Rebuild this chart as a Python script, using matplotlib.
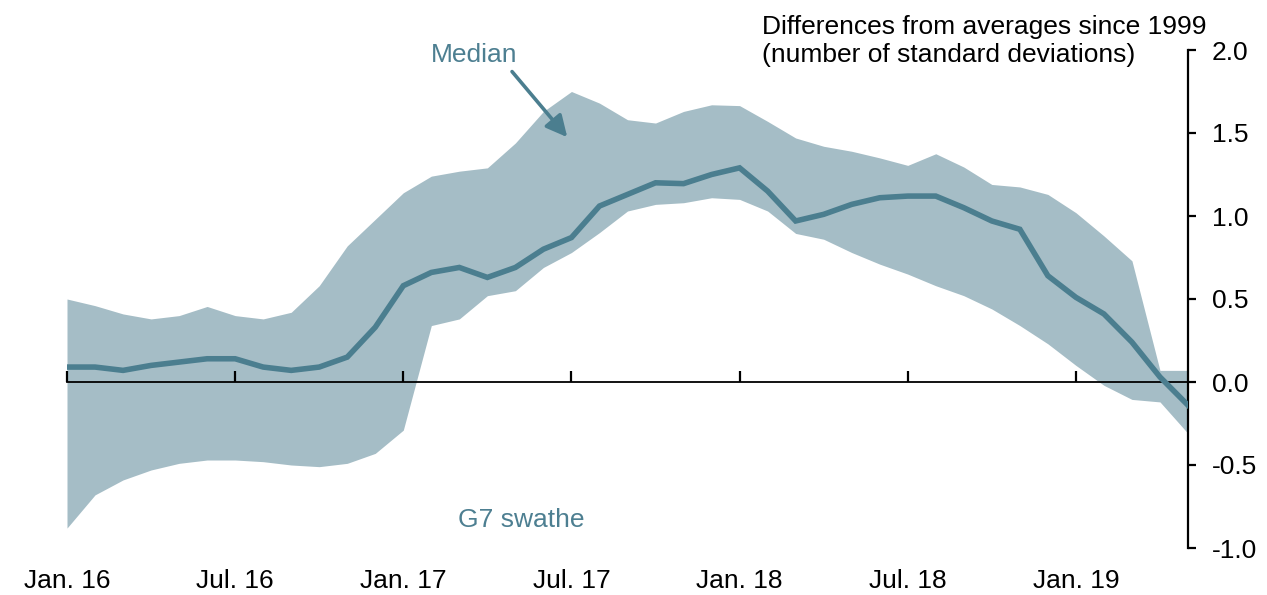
import numpy as np
import matplotlib
matplotlib.use("Agg")
import matplotlib.pyplot as plt

plt.rcParams['font.family'] = ['Liberation Sans', 'DejaVu Sans']

# Monthly data, Jan 2016 - May 2019
month_labels = ["Jan. 16", "Jul. 16", "Jan. 17", "Jul. 17", "Jan. 18", "Jul. 18", "Jan. 19"]
median = [0.09, 0.09, 0.07, 0.10, 0.12, 0.14, 0.14, 0.09, 0.07, 0.09, 0.15, 0.33, 0.58,
          0.66, 0.69, 0.63, 0.69, 0.80, 0.87, 1.06, 1.13, 1.20, 1.195, 1.25, 1.29,
          1.15, 0.97, 1.01, 1.07, 1.11, 1.12, 1.12, 1.05, 0.97, 0.92, 0.64, 0.51,
          0.41, 0.24, 0.03, -0.14]
upper = [0.50, 0.46, 0.41, 0.38, 0.40, 0.455, 0.40, 0.38, 0.42, 0.58, 0.82, 0.98, 1.14,
         1.24, 1.27, 1.29, 1.44, 1.63, 1.75, 1.68, 1.58, 1.56, 1.63, 1.67, 1.665,
         1.57, 1.47, 1.42, 1.39, 1.35, 1.305, 1.375, 1.295, 1.19, 1.175, 1.13, 1.02,
         0.88, 0.73, 0.07, 0.07]
lower = [-0.88, -0.68, -0.59, -0.53, -0.49, -0.47, -0.47, -0.48, -0.50, -0.51, -0.49, -0.43, -0.29,
         0.34, 0.38, 0.52, 0.55, 0.69, 0.78, 0.90, 1.03, 1.07, 1.08, 1.11, 1.10,
         1.03, 0.895, 0.86, 0.78, 0.71, 0.65, 0.58, 0.52, 0.44, 0.34, 0.23, 0.10,
         -0.02, -0.105, -0.12, -0.31]
y_ticks = [-1.0, -0.5, 0.0, 0.5, 1.0, 1.5, 2.0]

x = np.arange(len(median))
tick_pos = np.arange(0, len(median), 6)

FILL = '#a5bdc6'
LINE = '#4b7e8f'
TXT = '#4d7f91'
FS = 19

W, H = 1267, 595
fig = plt.figure(figsize=(W / 100, H / 100), dpi=100)
ax = fig.add_axes([67 / W, 1 - 548 / H, (1188 - 67) / W, (548 - 50) / H])

ax.fill_between(x, lower, upper, color=FILL, linewidth=0, zorder=1)
ax.plot(x, median, color=LINE, lw=4.0, zorder=3, solid_joinstyle='miter')

ax.set_xlim(0, len(median) - 1)
ax.set_ylim(-1, 2)

# spines
for s in ['left', 'top']:
    ax.spines[s].set_visible(False)
ax.spines['right'].set_linewidth(1.6)
ax.spines['bottom'].set_position(('data', 0))
ax.spines['bottom'].set_linewidth(1.3)
ax.spines['bottom'].set_zorder(2)

# y axis on right
ax.yaxis.tick_right()
ax.set_yticks(y_ticks)
ax.set_yticklabels([f"{v:.1f}" for v in y_ticks])
ax.tick_params(axis='y', direction='out', length=6, width=1.6, pad=11, labelsize=FS)

# x ticks on zero line, pointing up
ax.set_xticks(tick_pos)
ax.tick_params(axis='x', direction='in', length=8, width=1.6, labelbottom=False)

sec = ax.secondary_xaxis(0.0)
sec.set_xticks(tick_pos)
sec.set_xticklabels(month_labels)
sec.spines['bottom'].set_visible(False)
sec.tick_params(axis='x', length=0, pad=15, labelsize=FS)

# texts
fig.text(762 / W, 1 - 34 / H, "Differences from averages since 1999", fontsize=FS,
         ha='left', va='baseline', color='black')
fig.text(762 / W, 1 - 62 / H, "(number of standard deviations)", fontsize=FS,
         ha='left', va='baseline', color='black')

ax.text(14.54, 1.93, "Median", fontsize=FS, color=TXT, ha='center', va='baseline')
ax.annotate('', xy=(17.85, 1.475), xytext=(15.88, 1.87),
            arrowprops=dict(arrowstyle='-|>', color=LINE, lw=2.6, mutation_scale=32,
                            shrinkA=0, shrinkB=0))
ax.text(16.2, -0.873, "G7 swathe", fontsize=FS, color=TXT, ha='center', va='baseline')

fig.savefig('out.png', dpi=100)
